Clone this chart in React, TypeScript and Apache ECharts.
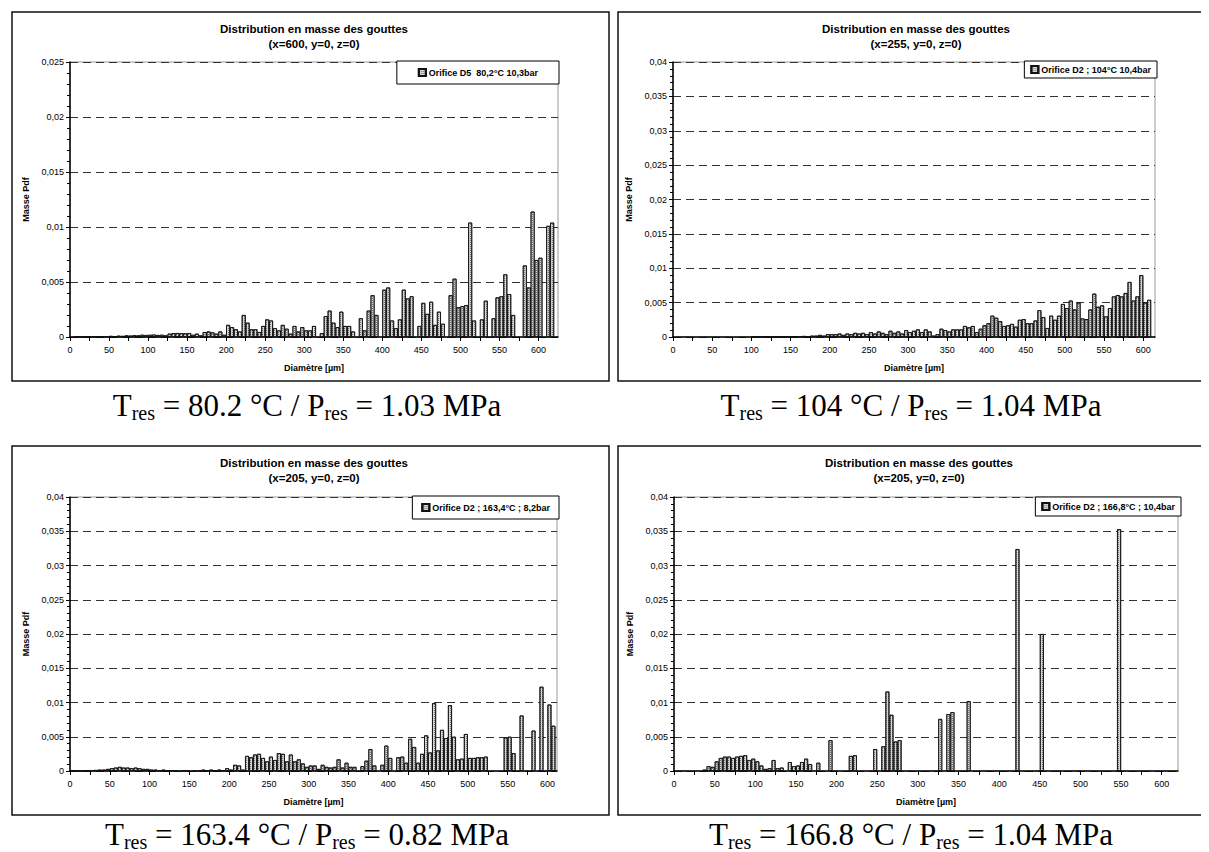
import React, { useEffect, useRef } from 'react';
import * as echarts from 'echarts';

// ---------- DATA ----------
const BIN = 5; // bin width in µm; value i covers [i*5, i*5+5)

// Orifice D5, 80,2°C 10,3bar (x=600)
const p1Values = [
  0, 0.00002, 0.00003, 0.00003, 0.00005, 0.00004, 0.00006, 0.00005, 0.00008, 0.00006,
  0.0001, 0.00008, 0.00012, 0.0001, 0.00015, 0.00013, 0.00016, 0.00015, 0.0002, 0.00018,
  0.0002, 0.00022, 0.00018, 0.0002, 0.00015, 0.0003, 0.00035, 0.00036, 0.00035, 0.00034,
  0.00036, 0.0002, 0.0003, 0.00015, 0.00045, 0.0005, 0.00042, 0.0003, 0.0005, 0.0002,
  0.0011, 0.0009, 0.0007, 0.0005, 0.002, 0.0013, 0.0007, 0.0007, 0.00045, 0.001,
  0.0016, 0.0015, 0.0008, 0.0006, 0.0011, 0.00075, 0.0003, 0.001, 0.0005, 0.0009,
  0.0006, 0.0006, 0.001, 0, 0.00035, 0.0019, 0.0024, 0.0013, 0.0009, 0.0023,
  0.001, 0.001, 0.0005, 0, 0.0017, 0.0006, 0.0024, 0.0038, 0.002, 0,
  0.0043, 0.0045, 0.0015, 0.0008, 0.0016, 0.0043, 0.0035, 0.0037, 0, 0.001,
  0.0031, 0.0021, 0.0032, 0.0011, 0.0023, 0.0012, 0, 0.0038, 0.0053, 0.0027,
  0.0028, 0.0029, 0.0104, 0.0015, 0, 0.0016, 0.0033, 0, 0.0017, 0.0036,
  0.0037, 0.0057, 0.0039, 0.002, 0, 0, 0.0065, 0.0045, 0.0114, 0.007,
  0.0072, 0, 0.0101, 0.0104,
];

// Orifice D2 ; 104°C 10,4bar (x=255)
const p2Values = [
  0, 0, 0, 0, 0, 0, 0, 0, 0, 0,
  0, 0, 0, 0, 0, 0, 0, 0, 0, 0,
  0.00002, 0.00002, 0.00003, 0.00002, 0.00003, 0.00004, 0.00003, 0.00004, 0.00005, 0.00004,
  0.00005, 0.0001, 0.0001, 0.00015, 0.0001, 0.0002, 0.0002, 0.0003, 0.0002, 0.0004,
  0.0004, 0.0004, 0.0005, 0.0003, 0.0005, 0.0004, 0.0006, 0.0005, 0.0006, 0.0004,
  0.0007, 0.0005, 0.0008, 0.0006, 0.0004, 0.0009, 0.0006, 0.0008, 0.0005, 0.001,
  0.0007, 0.0009, 0.0011, 0.0007, 0.0011, 0.0008, 0.0002, 0.0004, 0.0012, 0.001,
  0.0008, 0.0011, 0.0011, 0.0011, 0.0016, 0.0014, 0.0016, 0.0007, 0.0012, 0.0017,
  0.002, 0.0031, 0.0028, 0.0023, 0.0016, 0.0017, 0.0019, 0.0015, 0.0025, 0.0026,
  0.002, 0.002, 0.0024, 0.0039, 0.0029, 0.0013, 0.0031, 0.0025, 0.0031, 0.0048,
  0.0042, 0.0053, 0.004, 0.005, 0.0027, 0.0026, 0.004, 0.0063, 0.0044, 0.0046,
  0.003, 0.0042, 0.0059, 0.0061, 0.0059, 0.0064, 0.008, 0.0053, 0.0059, 0.009,
  0.005, 0.0054,
];

// Orifice D2 ; 163,4°C ; 8,2bar (x=205)
const p3Values = [
  0.00003, 0.00005, 0.00005, 0.00008, 0.0001, 0.0001, 0.00015, 0.0002, 0.0002, 0.0003,
  0.0004, 0.0005, 0.0006, 0.0005, 0.0005, 0.0004, 0.0005, 0.0004, 0.0003, 0.0003,
  0.0002, 0.0002, 0.0001, 0.0002, 0.0001, 0.0001, 0.0001, 0, 0.0001, 0.0001,
  0, 0.0001, 0.0001, 0.0002, 0.0001, 0.0002, 0.0001, 0.0002, 0.0001, 0.0004,
  0.0002, 0.0009, 0.0008, 0.0002, 0.0022, 0.002, 0.0024, 0.0025, 0.0019, 0.0014,
  0.0021, 0.0016, 0.0026, 0.0025, 0.0014, 0.0024, 0.0014, 0.0017, 0.0011, 0.0006,
  0.0008, 0.0008, 0.0003, 0.0009, 0.0006, 0.0005, 0.0006, 0.0017, 0.0005, 0.0012,
  0.0006, 0.0006, 0, 0.0007, 0.0015, 0.0032, 0.0008, 0, 0.0009, 0.0037,
  0.0019, 0, 0.002, 0.0021, 0.0012, 0.0047, 0.0035, 0.0012, 0.0025, 0.0052,
  0.0027, 0.0099, 0.003, 0.006, 0.0048, 0.0096, 0.005, 0.0017, 0.0018, 0.0054,
  0.0019, 0.0019, 0.002, 0.002, 0.0021, 0, 0, 0, 0, 0.0049,
  0.005, 0.0026, 0, 0.0081, 0, 0, 0.0059, 0, 0.0123, 0,
  0.0097, 0.0066,
];

// Orifice D2 ; 166,8°C ; 10,4bar (x=205)
const p4Values = [
  0, 0, 0, 0, 0, 0, 0, 0.0002, 0.0007, 0.0006,
  0.0014, 0.0019, 0.0021, 0.0021, 0.0019, 0.0021, 0.0022, 0.0023, 0.0016, 0.0018,
  0.0014, 0.0008, 0.0003, 0.0004, 0.0016, 0.0004, 0.0005, 0, 0.0013, 0.0007,
  0.0008, 0.0013, 0.0018, 0.001, 0, 0.0012, 0, 0, 0.0045, 0,
  0, 0, 0, 0.0022, 0.0023, 0, 0, 0, 0, 0.0032,
  0, 0.0036, 0.0116, 0.0082, 0.0043, 0.0045, 0, 0, 0, 0,
  0, 0, 0, 0, 0, 0.0076, 0, 0.0083, 0.0086, 0,
  0, 0, 0.0102, 0, 0, 0, 0, 0, 0, 0,
  0, 0, 0, 0, 0.0324, 0, 0, 0, 0, 0,
  0.02, 0, 0, 0, 0, 0, 0, 0, 0, 0,
  0, 0, 0, 0, 0, 0, 0, 0, 0, 0.0353,
];

const seriesValues = [p1Values, p2Values, p3Values, p4Values];
const legendNames = [
  'Orifice D5  80,2°C 10,3bar',
  'Orifice D2 ; 104°C 10,4bar',
  'Orifice D2 ; 163,4°C ; 8,2bar',
  'Orifice D2 ; 166,8°C ; 10,4bar',
];
const chartTitle = 'Distribution en masse des gouttes';
const positions = ['(x=600, y=0, z=0)', '(x=255, y=0, z=0)', '(x=205, y=0, z=0)', '(x=205, y=0, z=0)'];
const yMaxes = [0.025, 0.04, 0.04, 0.04];
const xMaxes = [625, 615, 612, 620];
const resTemps = ['80.2', '104', '163.4', '166.8'];
const resPress = ['1.03', '1.04', '0.82', '1.04'];
const X_TICK = 25;
const X_LABEL = 50;
const Y_STEP = 0.005;
const yAxisName = 'Masse Pdf';
const xAxisName = 'Diamètre [µm]';

// ---------- LAYOUT ----------
const W = 1209;
const H = 852;
const panels = [
  { box: [4, 4, 597, 369], grid: { left: 62, top: 54, width: 488, height: 275 }, titleX: 306, titleY: 21, legRight: W - 551, legTop: 53, legPad: [7, 21], capX: 299, capBase: 408 },
  { box: [610, 4, 595, 369], grid: { left: 665, top: 54, width: 482, height: 275 }, titleX: 908, titleY: 21, legRight: W - 1149, legTop: 53, legPad: [4, 6], capX: 903, capBase: 408 },
  { box: [4, 438, 597, 369], grid: { left: 62, top: 489, width: 487, height: 274 }, titleX: 306, titleY: 455, legRight: W - 551, legTop: 488, legPad: [7, 9], capX: 299, capBase: 837 },
  { box: [610, 438, 595, 369], grid: { left: 666, top: 489, width: 504, height: 274 }, titleX: 911, titleY: 455, legRight: W - 1173, legTop: 489, legPad: [5, 6], capX: 903, capBase: 837 },
];

const SANS = "'Liberation Sans', Arial, Helvetica, sans-serif";
const SERIF = "'Liberation Serif', 'Times New Roman', serif";
const CAP_MAIN = 31;
const CAP_SUB = 20;
const SUB_DROP = 4;

let measureCtx: CanvasRenderingContext2D | null = null;
function textWidth(text: string, font: string) {
  if (!measureCtx) measureCtx = document.createElement('canvas').getContext('2d');
  if (!measureCtx) return text.length * 10;
  measureCtx.font = font;
  return measureCtx.measureText(text).width;
}

function fmtY(v: number) {
  if (v === 0) return '0';
  return String(+v.toFixed(4)).replace('.', ',');
}

function captionElements(cx: number, base: number, temp: string, press: string) {
  const mainFont = `${CAP_MAIN}px ${SERIF}`;
  const subFont = `${CAP_SUB}px ${SERIF}`;
  const pieces: [string, boolean][] = [
    ['T', false],
    ['res', true],
    [` = ${temp} °C / P`, false],
    ['res', true],
    [` = ${press} MPa`, false],
  ];
  const widths = pieces.map(([t, s]) => textWidth(t, s ? subFont : mainFont));
  const total = widths.reduce((a, b) => a + b, 0);
  let x = cx - total / 2;
  const els: any[] = [];
  pieces.forEach(([t, s], k) => {
    const fs = s ? CAP_SUB : CAP_MAIN;
    const baseline = s ? base + SUB_DROP : base;
    els.push({
      type: 'text',
      x,
      y: baseline - 0.3375 * fs,
      style: {
        text: t,
        fill: '#000',
        font: s ? subFont : mainFont,
        align: 'left',
        verticalAlign: 'middle',
        textAlign: 'left',
        textVerticalAlign: 'middle',
      },
      silent: true,
    });
    x += widths[k];
  });
  return els;
}

function buildOption() {
  const grids: any[] = [];
  const xAxes: any[] = [];
  const yAxes: any[] = [];
  const series: any[] = [];
  const legends: any[] = [];
  const graphics: any[] = [];

  panels.forEach((p, i) => {
    grids.push({
      ...p.grid,
      show: true,
      borderColor: '#9a9a9a',
      borderWidth: 1,
      backgroundColor: 'transparent',
      containLabel: false,
      outerBoundsMode: 'none',
    });
    xAxes.push({
      type: 'value',
      gridIndex: i,
      min: 0,
      max: xMaxes[i],
      interval: X_TICK,
      name: xAxisName,
      nameLocation: 'middle',
      nameGap: 26,
      nameTextStyle: { fontFamily: SANS, fontSize: 9, fontWeight: 'bold', color: '#000' },
      axisLine: { show: true, onZero: false, lineStyle: { color: '#000', width: 1.5 } },
      axisTick: { show: true, length: 4, lineStyle: { color: '#000', width: 1 } },
      axisLabel: {
        margin: 8,
        fontFamily: SANS,
        fontSize: 9,
        color: '#000',
        showMaxLabel: false,
        formatter: (v: number) => (v % X_LABEL === 0 ? String(v) : ''),
      },
      splitLine: { show: false },
    });
    yAxes.push({
      type: 'value',
      gridIndex: i,
      min: 0,
      max: yMaxes[i],
      interval: Y_STEP,
      name: yAxisName,
      nameLocation: 'middle',
      nameGap: 40,
      nameTextStyle: { fontFamily: SANS, fontSize: 9, fontWeight: 'bold', color: '#000' },
      axisLine: { show: true, lineStyle: { color: '#000', width: 1.5 } },
      axisTick: { show: true, length: 4, lineStyle: { color: '#000', width: 1 } },
      minorTick: { show: true, splitNumber: 5, length: 3, lineStyle: { color: '#000', width: 1 } },
      axisLabel: { margin: 6, fontFamily: SANS, fontSize: 9, color: '#000', formatter: fmtY },
      splitLine: { show: true, lineStyle: { color: '#333', width: 1, type: [8, 5] } },
    });
    series.push({
      type: 'bar',
      name: legendNames[i],
      xAxisIndex: i,
      yAxisIndex: i,
      barWidth: 4,
      data: seriesValues[i]
        .map((v, k) => [k * BIN + BIN / 2, v])
        .filter((d) => d[1] > 0),
      itemStyle: {
        color: '#d4d4d4',
        borderColor: '#111',
        borderWidth: 0.8,
        decal: {
          symbol: 'rect',
          symbolSize: 1,
          dashArrayX: [1, 1],
          dashArrayY: [1, 1],
          rotation: 0,
          color: 'rgba(0,0,0,0.45)',
        },
      },
      emphasis: { disabled: true },
    });
    legends.push({
      show: true,
      data: [legendNames[i]],
      right: p.legRight,
      top: p.legTop,
      orient: 'horizontal',
      icon: 'rect',
      itemWidth: 7,
      itemHeight: 7,
      itemGap: 4,
      padding: p.legPad,
      backgroundColor: '#fff',
      borderColor: '#000',
      borderWidth: 1,
      borderRadius: 0,
      selectedMode: false,
      textStyle: { fontFamily: SANS, fontSize: 9, fontWeight: 'bold', color: '#000', padding: [0, 0, 0, -2] },
    });
    const [bx, by, bw, bh] = p.box;
    graphics.push({
      type: 'rect',
      shape: { x: bx, y: by, width: bw, height: bh },
      style: { fill: 'none', stroke: '#111', lineWidth: 1.5 },
      z: 0,
      silent: true,
    });
    [chartTitle, positions[i]].forEach((t, li) => {
      graphics.push({
        type: 'text',
        x: p.titleX,
        y: p.titleY + li * 15,
        style: {
          text: t,
          fill: '#000',
          font: `bold 11.5px ${SANS}`,
          align: 'center',
          verticalAlign: 'middle',
          textAlign: 'center',
          textVerticalAlign: 'middle',
        },
        silent: true,
      });
    });
    captionElements(p.capX, p.capBase, resTemps[i], resPress[i]).forEach((e) => graphics.push(e));
  });

  return {
    animation: false,
    backgroundColor: '#fff',
    grid: grids,
    xAxis: xAxes,
    yAxis: yAxes,
    series,
    legend: legends,
    graphic: { elements: graphics },
    tooltip: { show: false },
  };
}

export default function App() {
  const ref = useRef<HTMLDivElement>(null);
  useEffect(() => {
    if (!ref.current) return;
    const chart = echarts.init(ref.current, undefined, { renderer: 'svg', width: W, height: H });
    chart.setOption(buildOption() as any);
    return () => chart.dispose();
  }, []);
  return (
    <div
      ref={ref}
      style={{ position: 'fixed', left: 0, top: 0, width: W, height: H, background: '#fff' }}
    />
  );
}
